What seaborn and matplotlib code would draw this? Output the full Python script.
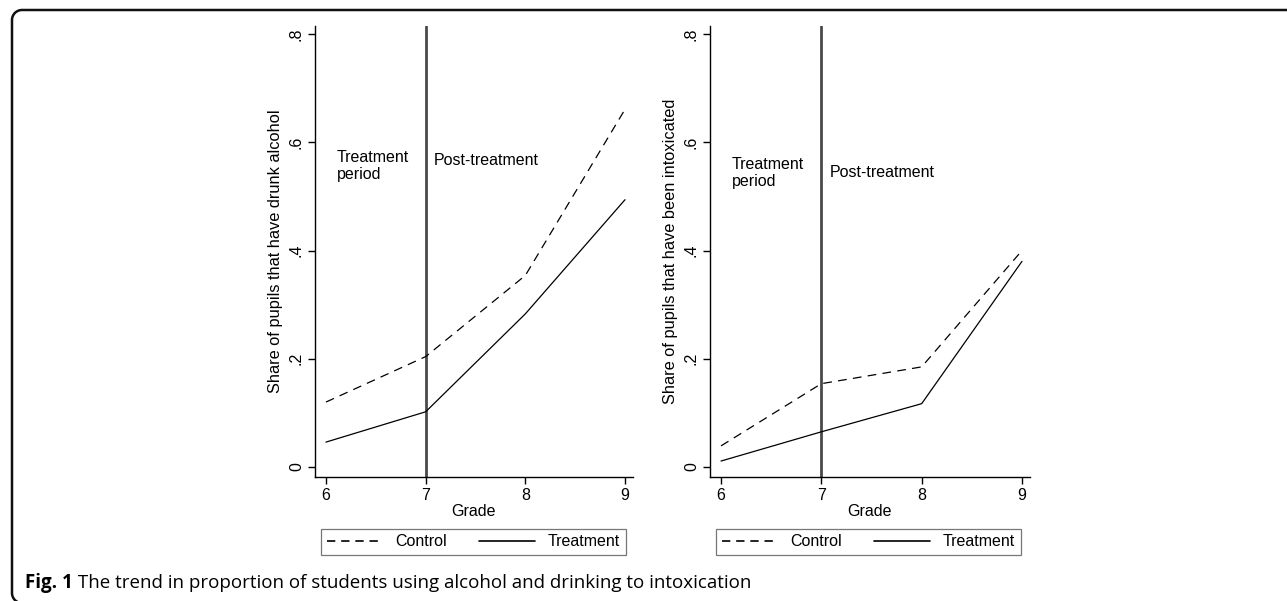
import matplotlib
matplotlib.use("Agg")
import matplotlib.pyplot as plt
import seaborn as sns
import numpy as np
import pandas as pd
from matplotlib.lines import Line2D

# data
grades = [6, 7, 8, 9]
alcohol_control = [0.120, 0.204, 0.354, 0.661]
alcohol_treatment = [0.046, 0.102, 0.283, 0.494]
intox_control = [0.039, 0.154, 0.185, 0.400]
intox_treatment = [0.011, 0.065, 0.117, 0.380]
groups = ["Control", "Treatment"]
y_ticks = [0, 0.2, 0.4, 0.6, 0.8]
y_tick_labels = ["0", ".2", ".4", ".6", ".8"]
y_labels = ["Share of pupils that have drunk alcohol",
            "Share of pupils that have been intoxicated"]
caption_bold = "Fig. 1"
caption_rest = " The trend in proportion of students using alcohol and drinking to intoxication"

sns.set_theme(style="ticks", rc={"text.color": "black", "axes.labelcolor": "black",
                                 "xtick.color": "black", "ytick.color": "black"})
plt.rcParams['font.family'] = ['Liberation Sans', 'DejaVu Sans']

W, H = 1287, 601


def long_frame(control, treatment):
    return pd.DataFrame({
        "Grade": grades * 2,
        "share": control + treatment,
        "group": [groups[0]] * len(grades) + [groups[1]] * len(grades),
    })


fig = plt.figure(figsize=(W / 100, H / 100), dpi=100)

panels = [
    (fig.add_axes([315 / W, 124 / H, 318 / W, 451 / H]), long_frame(alcohol_control, alcohol_treatment), y_labels[0]),
    (fig.add_axes([710 / W, 124 / H, 320 / W, 451 / H]), long_frame(intox_control, intox_treatment), y_labels[1]),
]

for i, (ax, df, ylab) in enumerate(panels):
    sns.lineplot(data=df, x="Grade", y="share", style="group",
                 dashes={"Control": (7, 5), "Treatment": ""},
                 color="black", linewidth=0.9, legend=False, ax=ax)
    ax.axvline(7, color="#4a4a4a", linewidth=2.0, zorder=1)
    ax.set_xlim(5.89, 9.08)
    ax.set_ylim(-0.0185, 0.815)
    ax.set_xticks(grades)
    ax.set_yticks(y_ticks)
    ax.set_yticklabels(y_tick_labels, rotation=90, va="center")
    ax.tick_params(axis="both", labelsize=11.5, length=5, width=1, color="black", pad=3)
    ax.set_xlabel("Grade", fontsize=11.5, labelpad=1)
    ax.set_ylabel(ylab, fontsize=11.8, labelpad=4)
    for sp in ["top", "right"]:
        ax.spines[sp].set_visible(False)
    for sp in ["left", "bottom"]:
        ax.spines[sp].set_linewidth(1.0)
        ax.spines[sp].set_color("black")

    ty = 0.585 if i == 0 else 0.573
    ax.text(6.11, ty, "Treatment\nperiod", fontsize=11.5, va="top", ha="left", linespacing=1.15)
    ax.text(7.08, ty - 0.005 if i == 0 else ty - 0.015, "Post-treatment", fontsize=11.5, va="top", ha="left")

    handles = [Line2D([], [], color="black", linewidth=1.2, dashes=(5, 3.5)),
               Line2D([], [], color="black", linewidth=1.2)]
    leg = ax.legend(handles, groups, ncol=2, loc="upper left",
                    bbox_to_anchor=(0.02, -0.115), fontsize=11.5,
                    frameon=True, fancybox=False, handlelength=3.5,
                    columnspacing=2.0, handletextpad=0.8, borderpad=0.35,
                    borderaxespad=0)
    leg.get_frame().set_edgecolor("#555555")
    leg.get_frame().set_linewidth(0.9)

# outer rounded frame, only top and left edges visible
r = 10
x0, y0, yb = 12, 10, 603
top_left = [(x0 + r + r * np.cos(a), y0 + r - r * np.sin(a)) for a in np.linspace(np.pi, np.pi / 2, 20)]
bottom_left = [(x0 + r + r * np.cos(a), yb - r + r * np.sin(a)) for a in np.linspace(np.pi / 2, np.pi, 20)]
pts = bottom_left + top_left + [(W + 10, y0)]
xs = [p[0] / W for p in pts]
ys = [1 - p[1] / H for p in pts]
fig.add_artist(Line2D(xs, ys, color="#111111", linewidth=1.8, transform=fig.transFigure,
                      solid_capstyle="butt", clip_on=False))

cap_y = 1 - 588 / H
t = fig.text(25 / W, cap_y, caption_bold, fontsize=13.5, fontweight="bold",
             family=["Open Sans", "DejaVu Sans"], va="baseline")
fig.canvas.draw()
ext = t.get_window_extent()
fig.text(ext.x1 / fig.bbox.width, cap_y, caption_rest, fontsize=13.5,
         family=["Open Sans", "DejaVu Sans"], va="baseline")

fig.savefig("out.png", dpi=100)
